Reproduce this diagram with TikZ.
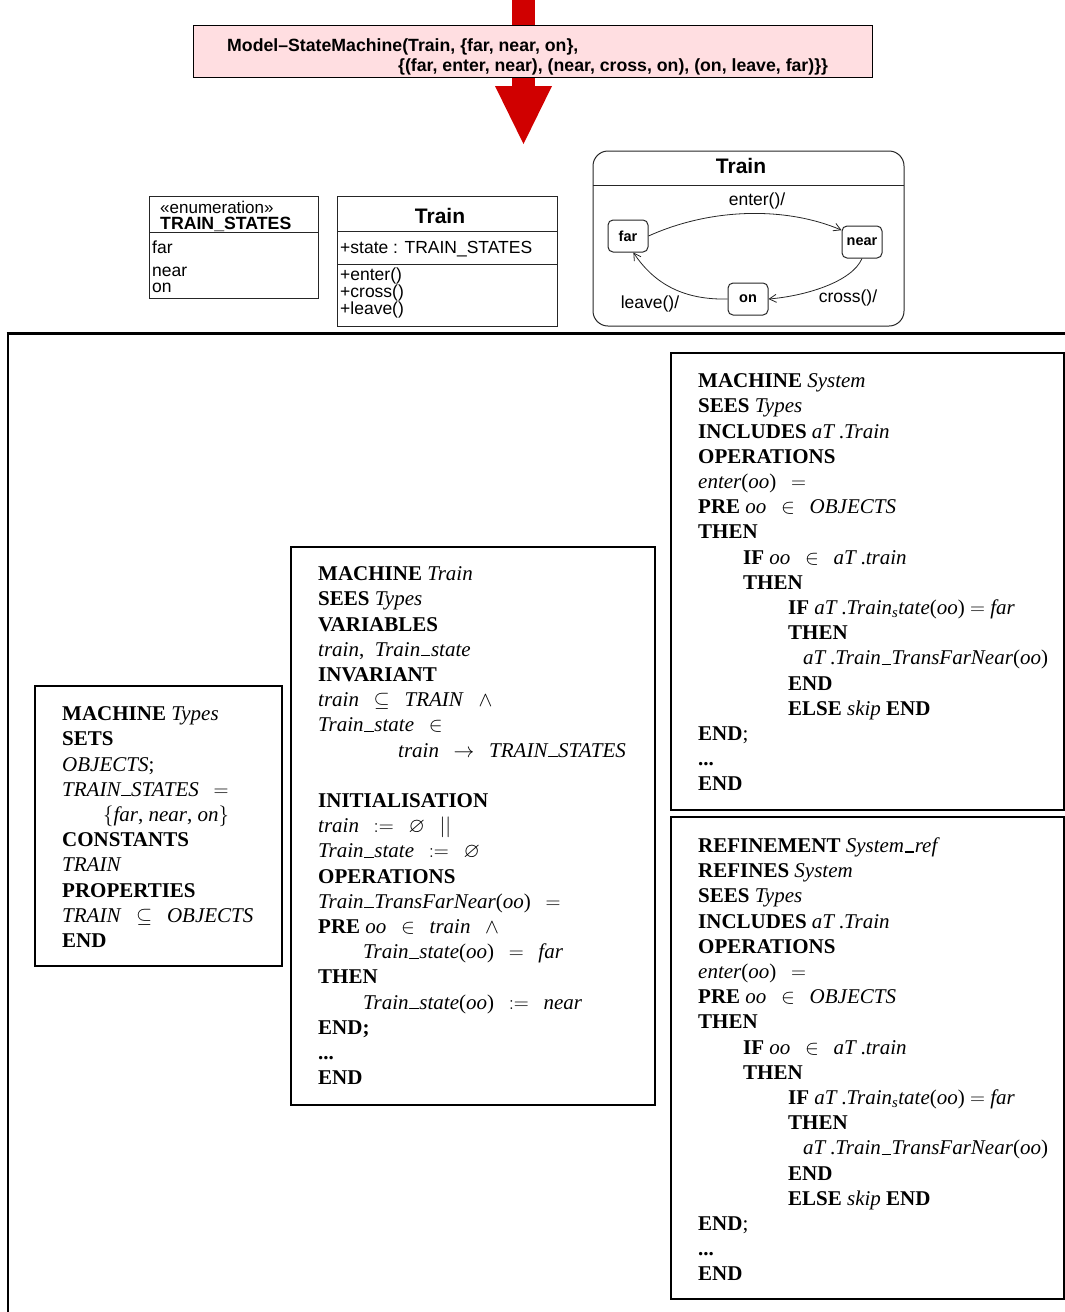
\documentclass[tikz,border=0pt]{standalone}
\usepackage{amssymb}
\usepackage{fontspec}
\setmainfont{Liberation Serif}
\newfontfamily\umlfont{Liberation Sans}
\usetikzlibrary{arrows.meta}
\definecolor{arrowred}{RGB}{208,0,0}
\definecolor{pinkfill}{RGB}{255,222,225}
\newcommand{\bk}[1]{\textbf{#1}}
\newcommand{\bi}[1]{\textit{#1}}
\newcommand{\op}[1]{\hspace{0.7em}$#1$\hspace{0.7em}}
\newcommand{\bus}{\kern0.03em\rule[-0.01em]{0.45em}{0.06em}\kern0.03em}
\begin{document}
\begin{tikzpicture}[x=1pt,y=-1pt,
  btext/.style={anchor=north west, inner sep=0pt, align=left,
    font=\fontsize{21}{25.2}\selectfont, execute at begin node={\rule{0pt}{17pt}}},
  bbox/.style={line width=2pt},
  umlbox/.style={line width=1pt, draw=black!85},
  umlt/.style={anchor=base west, inner sep=0pt, font=\umlfont\fontsize{17.5}{17}\selectfont},
  umlb/.style={anchor=base, inner sep=0pt, font=\umlfont\bfseries\fontsize{21}{21}\selectfont},
  state/.style={draw=black!85, line width=1pt, rounded corners=5pt, minimum width=40pt, minimum height=32pt,
    inner sep=0pt, font=\umlfont\bfseries\fontsize{14.5}{14.5}\selectfont},
  trans/.style={line width=0.8pt, draw=black!85, -{Straight Barb[length=7pt,width=8pt]}},
  tlabel/.style={inner sep=0pt, font=\umlfont\fontsize{17.5}{17.5}\selectfont},
  smt/.style={anchor=base west, inner sep=0pt, font=\umlfont\bfseries\fontsize{17.7}{17.7}\selectfont}
]
\useasboundingbox (0,0) rectangle (1065,1312);

% red arrow (drawn under the box)
\fill[arrowred] (512,0) rectangle (535,40);
\fill[arrowred] (512,60) rectangle (535,90);
\fill[arrowred] (495,86) -- (552,86) -- (523.5,144) -- cycle;

% Model-StateMachine box
\draw[line width=1pt, fill=pinkfill] (193,25) rectangle (872,77);
\node[smt] (sm1) at (227,51) {Model–StateMachine(Train, \{far, near, on\},};
\node[smt] (sm2) at (398,71) {\{(far, enter, near), (near, cross, on), (on, leave, far)\}\}};

% enumeration class
\draw[umlbox] (149,196) rectangle (318,298);
\draw[umlbox] (149,232) -- (318,232);
\node[umlt, font=\umlfont\fontsize{17}{17}\selectfont] (enumst) at (160,213) {«enumeration»};
\node[umlt, font=\umlfont\bfseries\fontsize{17.7}{17.7}\selectfont] (enumname) at (160,229) {TRAIN\_STATES};
\node[umlt] (efar) at (152,253) {far};
\node[umlt] (enear) at (152,276) {near};
\node[umlt] (eon) at (152,292) {on};

% Train class
\draw[umlbox] (337,196) rectangle (557,326);
\draw[umlbox] (337,231) -- (557,231);
\draw[umlbox] (337,264) -- (557,264);
\node[umlb] (cname) at (440,223) {Train};
\node[umlt] (cattr) at (340,253) {+state : TRAIN\_STATES};
\node[umlt] (cop1) at (340,280) {+enter()};
\node[umlt] (cop2) at (340,297) {+cross()};
\node[umlt] (cop3) at (340,314) {+leave()};

% state machine
\draw[umlbox, rounded corners=15pt] (593,151) rectangle (904,326);
\draw[umlbox] (593,185) -- (904,185);
\node[umlb] (smname) at (741,173) {Train};
\node[state] (far) at (628,236) {far};
\node[state] (near) at (862,242) {near};
\node[state] (on) at (748,299) {on};
\draw[trans] (far.east) .. controls (715,206) and (790,208) .. (near.150);
\draw[trans] (near.south) .. controls (852,282) and (805,296) .. (on.east);
\draw[trans] (on.west) .. controls (685,300) and (655,285) .. (far.-72);
\node[tlabel] (lenter) at (757,201) {enter()/};
\node[tlabel] (lcross) at (848,298) {cross()/};
\node[tlabel] (lleave) at (650,304) {leave()/};

% frame
\draw[line width=3pt] (6.5,333) -- (1065,333);
\draw[line width=2pt] (7.5,333) -- (7.5,1312);

% B machine boxes
\draw[bbox] (35,686) rectangle (282,966);
\draw[bbox] (291,547) rectangle (655,1105);
\draw[bbox] (671,353) rectangle (1064,810);
\draw[bbox] (671,817) rectangle (1064,1299);

\node[btext] (types) at (62,706.5) {%
\bk{MACHINE} \bi{Types}\\
\bk{SETS}\\
\bi{OBJECTS};\\
\bi{TRAIN\bus STATES}\op{=}\\
\hspace*{41pt}$\{$\bi{far}, \bi{near}, \bi{on}$\}$\\
\bk{CONSTANTS}\\
\bi{TRAIN}\\
\bk{PROPERTIES}\\
\bi{TRAIN}\op{\subseteq}\bi{OBJECTS}\\
\bk{END}};

\node[btext] (trainm) at (318,566.5) {%
\bk{MACHINE} \bi{Train}\\
\bk{SEES} \bi{Types}\\
\bk{VARIABLES}\\
\bi{train}, \ \bi{Train\bus state}\\
\bk{INVARIANT}\\
\bi{train}\op{\subseteq}\bi{TRAIN}\op{\wedge}\\
\bi{Train\bus state}\op{\in}\\
\hspace*{80pt}\bi{train}\op{\rightarrow}\bi{TRAIN\bus STATES}\\[25.2pt]
\bk{INITIALISATION}\\
\bi{train}\op{:=}$\varnothing$\op{||}\\
\bi{Train\bus state}\op{:=}$\varnothing$\\
\bk{OPERATIONS}\\
\bi{Train\bus TransFarNear}(\bi{oo})\op{=}\\
\bk{PRE} \bi{oo}\op{\in}\bi{train}\op{\wedge}\\
\hspace*{45pt}\bi{Train\bus state}(\bi{oo})\op{=}\bi{far}\\
\bk{THEN}\\
\hspace*{45pt}\bi{Train\bus state}(\bi{oo})\op{:=}\bi{near}\\
\bk{END;}\\
\bk{...}\\
\bk{END}};

\node[btext] (system) at (698,373.5) {%
\bk{MACHINE} \bi{System}\\
\bk{SEES} \bi{Types}\\
\bk{INCLUDES} \bi{aT}\,.\bi{Train}\\
\bk{OPERATIONS}\\
\bi{enter}(\bi{oo})\op{=}\\
\bk{PRE} \bi{oo}\op{\in}\bi{OBJECTS}\\
\bk{THEN}\\
\hspace*{45pt}\bk{IF} \bi{oo}\op{\in}\bi{aT}\,.\bi{train}\\
\hspace*{45pt}\bk{THEN}\\
\hspace*{90pt}\bk{IF} \bi{aT}\,.\bi{Train}\textsubscript{\bi{s}}\bi{tate}(\bi{oo}) $=$ \bi{far}\\
\hspace*{90pt}\bk{THEN}\\
\hspace*{105pt}\bi{aT}\,.\bi{Train\bus TransFarNear}(\bi{oo})\\
\hspace*{90pt}\bk{END}\\
\hspace*{90pt}\bk{ELSE} \bi{skip} \bk{END}\\
\bk{END};\\
\bk{...}\\
\bk{END}};

\node[btext] (sysref) at (698,837.5) {%
\bk{REFINEMENT} \bi{System\bus ref}\\
\bk{REFINES} \bi{System}\\
\bk{SEES} \bi{Types}\\
\bk{INCLUDES} \bi{aT}\,.\bi{Train}\\
\bk{OPERATIONS}\\
\bi{enter}(\bi{oo})\op{=}\\
\bk{PRE} \bi{oo}\op{\in}\bi{OBJECTS}\\
\bk{THEN}\\
\hspace*{45pt}\bk{IF} \bi{oo}\op{\in}\bi{aT}\,.\bi{train}\\
\hspace*{45pt}\bk{THEN}\\
\hspace*{90pt}\bk{IF} \bi{aT}\,.\bi{Train}\textsubscript{\bi{s}}\bi{tate}(\bi{oo}) $=$ \bi{far}\\
\hspace*{90pt}\bk{THEN}\\
\hspace*{105pt}\bi{aT}\,.\bi{Train\bus TransFarNear}(\bi{oo})\\
\hspace*{90pt}\bk{END}\\
\hspace*{90pt}\bk{ELSE} \bi{skip} \bk{END}\\
\bk{END};\\
\bk{...}\\
\bk{END}};
\end{tikzpicture}
\end{document}
